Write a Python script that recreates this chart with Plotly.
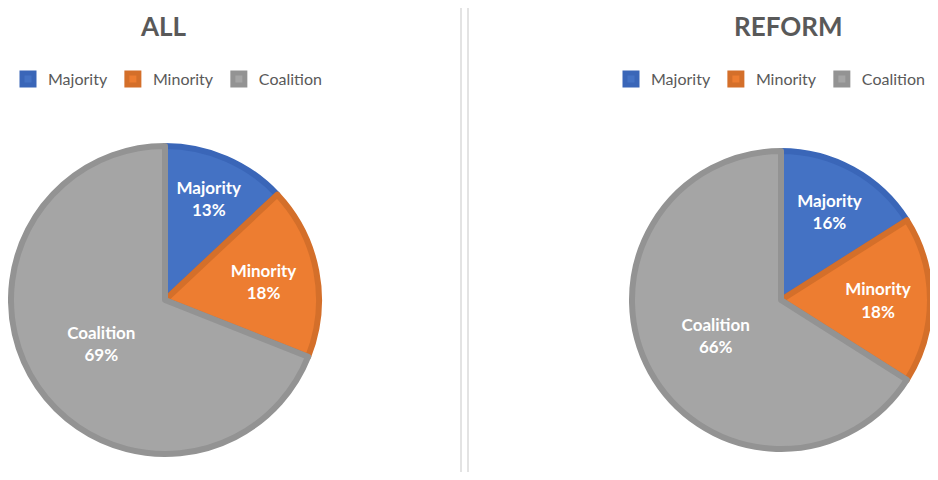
import plotly.graph_objects as go

# The page adds an 8px body margin; the figure is sized to stay fully visible in the
# 938x480 window without scrollbars.
W, H = 922, 464

labels = ["Majority", "Minority", "Coalition"]
all_values = [13, 18, 69]
reform_values = [16, 18, 66]
titles = ["ALL", "REFORM"]

fill_colors = ["#4472C4", "#ED7D31", "#A5A5A5"]
line_colors = ["#3A66B8", "#D46F2A", "#939393"]


def domain(cx, cy, d):
    return dict(
        x=[max(0, (cx - d / 2) / W), min(1, (cx + d / 2) / W)],
        y=[max(0, 1 - (cy + d / 2) / H), min(1, 1 - (cy - d / 2) / H)],
    )


def pie(values, suffix, dom, legend):
    return go.Pie(
        labels=[l + suffix for l in labels],
        values=values,
        sort=False,
        direction="clockwise",
        rotation=0,
        domain=dom,
        legend=legend,
        marker=dict(colors=fill_colors, line=dict(color=line_colors, width=6)),
        texttemplate="<b>%{label}<br>%{percent:.0%}</b>",
        textposition="inside",
        insidetextorientation="horizontal",
        insidetextfont=dict(color="white", size=17, family="Lato"),
        hoverinfo="label+percent",
    )


fig = go.Figure()
fig.add_trace(pie(all_values, "", domain(157, 292, 308), "legend"))
fig.add_trace(pie(reform_values, "\u200b", domain(773, 292, 298), "legend2"))

legend_common = dict(
    orientation="h",
    yanchor="middle",
    font=dict(family="Lato", size=16, color="#595959"),
    bgcolor="rgba(0,0,0,0)",
    itemclick=False,
    itemdoubleclick=False,
)

title_font = dict(family="Lato", size=26, color="#595959")

fig.update_layout(
    width=W,
    height=H,
    margin=dict(l=0, r=0, t=0, b=0),
    paper_bgcolor="white",
    plot_bgcolor="white",
    font=dict(family="Lato", color="#595959"),
    legend=dict(x=0.0, xanchor="left", y=1 - 71 / H, **legend_common),
    legend2=dict(x=1.0, xanchor="right", y=1 - 71 / H, **legend_common),
    annotations=[
        dict(text=f"<b>{titles[0]}</b>", x=155 / W, y=1.0, xref="paper", yref="paper",
             showarrow=False, font=title_font, xanchor="center", yanchor="top"),
        dict(text=f"<b>{titles[1]}</b>", x=780 / W, y=1.0, xref="paper", yref="paper",
             showarrow=False, font=title_font, xanchor="center", yanchor="top"),
    ],
    shapes=[
        dict(type="line", xref="paper", yref="paper", x0=453 / W, x1=453 / W, y0=0, y1=1,
             line=dict(color="#E3E3E3", width=2)),
        dict(type="line", xref="paper", yref="paper", x0=460 / W, x1=460 / W, y0=0, y1=1,
             line=dict(color="#E3E3E3", width=2)),
    ],
)

fig.write_html("out.html")
